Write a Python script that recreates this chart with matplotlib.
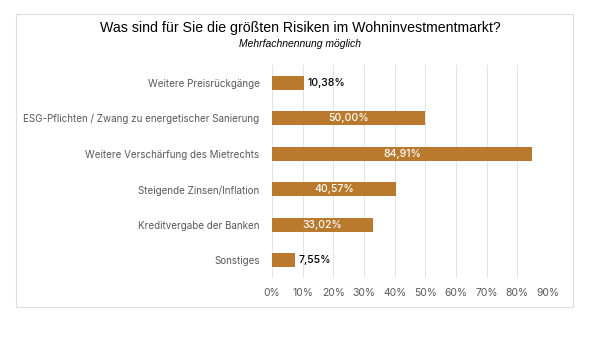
import matplotlib
matplotlib.use("Agg")
import matplotlib.pyplot as plt
from matplotlib.patches import Rectangle

categories = [
    "Weitere Preisrückgänge",
    "ESG-Pflichten / Zwang zu energetischer Sanierung",
    "Weitere Verschärfung des Mietrechts",
    "Steigende Zinsen/Inflation",
    "Kreditvergabe der Banken",
    "Sonstiges",
]
values = [10.38, 50.00, 84.91, 40.57, 33.02, 7.55]
xticks = [0, 10, 20, 30, 40, 50, 60, 70, 80, 90]

title = "Was sind für Sie die größten Risiken im Wohninvestmentmarkt?"
subtitle = "Mehrfachnennung möglich"

bar_color = "#BA7A2E"
grid_color = "#E3E3E3"
text_gray = "#595959"
label_font = ["Inter", "DejaVu Sans"]

fig = plt.figure(figsize=(6.0, 3.38), dpi=100)
fig.patch.set_facecolor("white")

# light outer frame
fig.patches.append(Rectangle((16 / 600, 1 - 307 / 338), (573 - 16) / 600, (307 - 14) / 338,
                             transform=fig.transFigure, fill=False,
                             edgecolor="#DDDDDD", linewidth=0.8))

ax = fig.add_axes([272 / 600, 1 - 278 / 338, (548 - 272) / 600, (278 - 65) / 338])

ypos = list(range(len(categories)))
ax.barh(ypos, values, height=0.4, color=bar_color, zorder=3)
ax.set_ylim(len(categories) - 0.5, -0.5)
ax.set_xlim(0, 90)

ax.set_yticks(ypos)
ax.set_yticklabels(categories, fontsize=7.1, color=text_gray, family=label_font)
ax.set_xticks(xticks)
ax.set_xticklabels([f"{t}%" for t in xticks], fontsize=7.5, color=text_gray, family=label_font)
ax.tick_params(axis="both", length=0)
ax.tick_params(axis="y", pad=9)
ax.tick_params(axis="x", pad=7)

ax.grid(axis="x", color=grid_color, linewidth=0.7, zorder=0)
for s in ax.spines.values():
    s.set_visible(False)

for y, v in zip(ypos, values):
    txt = f"{v:.2f}%".replace(".", ",")
    if v < 20:
        ax.text(v + 1.2, y, txt, va="center", ha="left", fontsize=7.5,
                color="black", family=label_font, weight="medium", zorder=4)
    else:
        ax.text(v / 2, y, txt, va="center", ha="center", fontsize=7.5,
                color="white", family=label_font, weight="medium", zorder=4)

fig.text(0.5, 1 - 28 / 338, title, ha="center", va="center", fontsize=10.2,
         family=["Liberation Sans", "DejaVu Sans"], color="black")
fig.text(0.5, 1 - 44 / 338, subtitle, ha="center", va="center", fontsize=7.5,
         style="italic", family=["Liberation Sans", "DejaVu Sans"], color="black")

fig.savefig("out.png", dpi=100, facecolor="white")
